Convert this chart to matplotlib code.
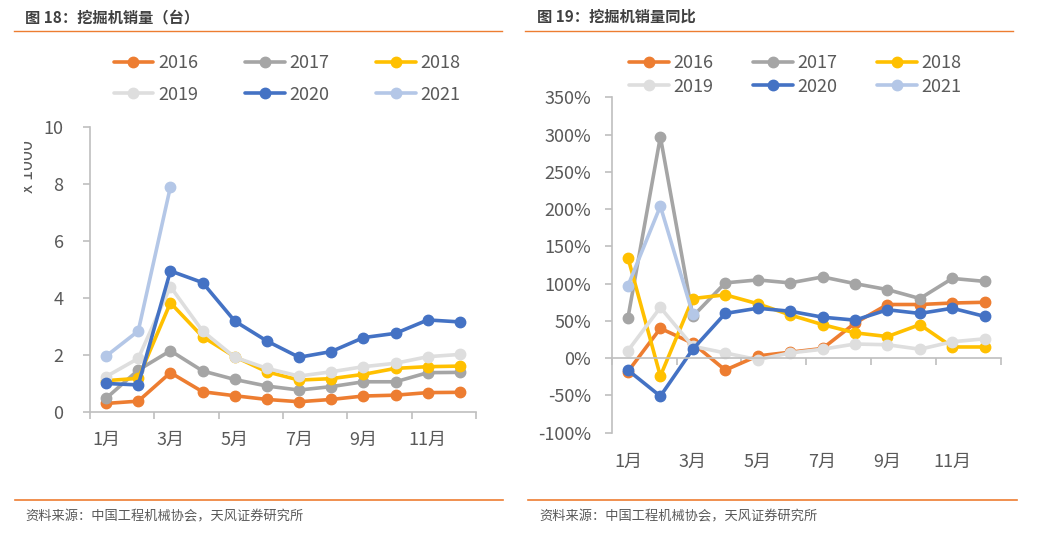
import matplotlib
matplotlib.use('Agg')
import matplotlib.pyplot as plt
from matplotlib.lines import Line2D
from matplotlib.transforms import Bbox

plt.rcParams['font.family'] = ['Noto Sans CJK SC', 'DejaVu Sans']

# data
months = ['1月', '2月', '3月', '4月', '5月', '6月', '7月', '8月', '9月', '10月', '11月', '12月']
years = ['2016', '2017', '2018', '2019', '2020', '2021']
colors = ['#ED7D31', '#A5A5A5', '#FFC000', '#DEDEDE', '#4472C4', '#B4C7E7']

# sales, x 1000 units
sales_2016 = [0.29, 0.37, 1.37, 0.70, 0.56, 0.43, 0.35, 0.43, 0.55, 0.58, 0.67, 0.68]
sales_2017 = [0.47, 1.46, 2.14, 1.43, 1.13, 0.90, 0.76, 0.88, 1.05, 1.05, 1.37, 1.38]
sales_2018 = [1.09, 1.17, 3.82, 2.63, 1.93, 1.40, 1.11, 1.16, 1.31, 1.52, 1.58, 1.60]
sales_2019 = [1.23, 1.87, 4.39, 2.83, 1.91, 1.52, 1.25, 1.40, 1.58, 1.70, 1.93, 2.01]
sales_2020 = [0.99, 0.94, 4.94, 4.53, 3.18, 2.48, 1.91, 2.11, 2.60, 2.75, 3.22, 3.15]
sales_2021 = [1.95, 2.83, 7.89]

# year-on-year growth, %
yoy_2016 = [-18, 40, 20, -16, 3, 8, 13, 47, 72, 72, 74, 75]
yoy_2017 = [54, 297, 56, 101, 105, 101, 109, 100, 92, 80, 107, 103]
yoy_2018 = [135, -24, 80, 85, 73, 58, 45, 34, 29, 45, 15, 15]
yoy_2019 = [10, 68, 16, 7, -2, 7, 12, 19, 18, 12, 22, 26]
yoy_2020 = [-16, -51, 12, 60, 67, 63, 55, 51, 65, 60, 67, 56]
yoy_2021 = [97, 204, 59]

sales = [sales_2016, sales_2017, sales_2018, sales_2019, sales_2020, sales_2021]
yoy = [yoy_2016, yoy_2017, yoy_2018, yoy_2019, yoy_2020, yoy_2021]

W, H = 1040, 542
fig = plt.figure(figsize=(W / 100, H / 100), dpi=100)

txt_color = '#595959'
axis_color = '#BFBFBF'
orange = '#ED7D31'


def px(x0, y0, x1, y1):
    # pixel box -> figure fraction rect
    return [x0 / W, 1 - y1 / H, (x1 - x0) / W, (y1 - y0) / H]


def draw_lines(ax, series):
    for name, vals, c in zip(years, series, colors):
        ax.plot(range(len(vals)), vals, color=c, lw=2.6, marker='o', ms=7.5,
                mec=c, mfc=c, label=name, solid_capstyle='round')


def style(ax, label_y):
    for s in ['top', 'right']:
        ax.spines[s].set_visible(False)
    for s in ['left', 'bottom']:
        ax.spines[s].set_color(axis_color)
        ax.spines[s].set_linewidth(1.2)
    ax.set_xlim(-0.5, 11.5)
    ax.set_xticks(range(12))
    ax.set_xticklabels([])
    ax.tick_params(axis='x', which='major', length=0)
    ax.set_xticks([-0.5, 1.5, 3.5, 5.5, 7.5, 9.5, 11.5], minor=True)
    ax.tick_params(axis='x', which='minor', length=5, width=1.2, color=axis_color, direction='out')
    ax.tick_params(axis='y', length=5, width=1.2, color=axis_color, labelcolor=txt_color, labelsize=13)
    for i in range(0, 12, 2):
        ax.text(i, label_y, months[i], transform=ax.get_xaxis_transform(),
                ha='center', va='center', fontsize=13, color=txt_color)


def add_legend(ax, cx, cy, colsp, rowsp):
    h, l = ax.get_legend_handles_labels()
    order = [0, 3, 1, 4, 2, 5]  # row-major fill for 3 columns
    leg = ax.legend([h[i] for i in order], [l[i] for i in order], ncol=3, loc='center',
                    bbox_to_anchor=(cx / W, 1 - cy / H), bbox_transform=fig.transFigure,
                    frameon=False, fontsize=13, handlelength=2.2, handletextpad=0.25,
                    columnspacing=colsp, labelspacing=rowsp, borderpad=0)
    for t in leg.get_texts():
        t.set_color(txt_color)


# left chart: sales
ax1 = fig.add_axes(px(90, 126.7, 476, 411.7))
draw_lines(ax1, sales)
ax1.set_ylim(0, 10)
ax1.set_yticks(range(0, 11, 2))
style(ax1, -0.099)
ax1.tick_params(axis='y', pad=14)
add_legend(ax1, 287, 79, 2.6, 0.75)

unit = fig.text(28 / W, 1 - 167 / H, 'x 1000', rotation=90, ha='center', va='center',
                fontsize=13, color=txt_color)
unit.set_clip_box(Bbox.from_extents(24, 0, 60, H))
unit.set_clip_on(True)

# right chart: yoy
ax2 = fig.add_axes(px(611.7, 97.3, 1001, 432.7))
draw_lines(ax2, yoy)
ax2.set_ylim(-100, 350)
ax2.set_yticks(range(-100, 351, 50))
ax2.set_yticklabels([f'{v}%' for v in range(-100, 351, 50)])
ax2.spines['bottom'].set_position(('data', 0))
style(ax2, -0.0865)
ax2.tick_params(axis='y', pad=10)
add_legend(ax2, 795, 75, 2.2, 0.3)

# titles, rules and sources
fig.text(25 / W, 1 - 17 / H, '图 18：挖掘机销量（台）', fontsize=11, fontweight='bold',
         color='#404040', va='center')
fig.text(537 / W, 1 - 17 / H, '图 19：挖掘机销量同比', fontsize=11, fontweight='bold',
         color='#404040', va='center')
for x0, x1 in [(14, 502), (525, 1013)]:
    fig.add_artist(Line2D([x0 / W, x1 / W], [1 - 31 / H] * 2, color=orange, lw=1))
for x0, x1 in [(15, 503), (528, 1017)]:
    fig.add_artist(Line2D([x0 / W, x1 / W], [1 - 500 / H] * 2, color=orange, lw=1.2))
fig.text(25 / W, 1 - 517 / H, '资料来源：中国工程机械协会，天风证券研究所', fontsize=9.5,
         color=txt_color, va='center')
fig.text(539 / W, 1 - 517 / H, '资料来源：中国工程机械协会，天风证券研究所', fontsize=9.5,
         color=txt_color, va='center')

fig.savefig('out.png', dpi=100)
